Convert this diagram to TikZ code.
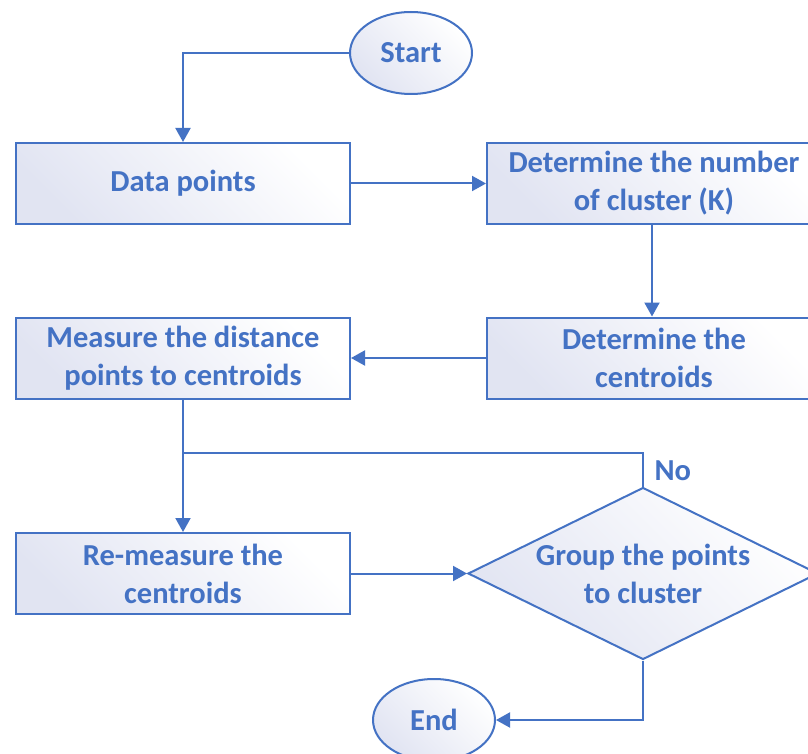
\documentclass[tikz,border=0pt]{standalone}
\usepackage{fontspec}
\setmainfont{Carlito}[BoldFont={Carlito Bold}]
\usetikzlibrary{shapes.geometric,arrows.meta}
\definecolor{ofblue}{HTML}{4472C4}
\definecolor{lav}{HTML}{E1E4F2}
\tikzset{
  shape fill/.style={draw=ofblue, line width=2pt, shading=axis, top color=lav, bottom color=white, shading angle=135},
  procbox/.style={shape fill, rectangle, minimum width=334pt, minimum height=81pt, inner sep=0pt, align=center},
  term/.style={shape fill, ellipse, minimum width=122pt, minimum height=82pt, inner sep=0pt},
  decision/.style={shape fill, diamond, minimum width=350pt, minimum height=172pt, inner sep=-40pt, align=center},
  lbl/.style={text=ofblue, font=\bfseries\fontsize{30.5}{38}\selectfont},
  conn/.style={draw=ofblue, line width=2pt},
  arr/.style={conn, -{Triangle[length=14pt,width=15pt]}}
}
\begin{document}
\begin{tikzpicture}[x=1pt,y=-1pt]
\clip (0,0) rectangle (808,754);
\fill[white] (0,0) rectangle (808,754);
\node[term, lbl] (start) at (411,53) {Start};
\node[procbox, lbl] (data) at (183,183.5) {Data points};
\node[procbox, lbl] (num) at (654,183.5) {Determine the number\\of cluster (K)};
\node[procbox, lbl] (cent) at (654,358) {Determine the\\centroids};
\node[procbox, lbl] (meas) at (183,358) {Measure the distance\\points to centroids};
\node[procbox, lbl] (remeas) at (183,573.5) {Re-measure the\\centroids};
\node[decision, lbl] (group) at (643,573.5) {Group the points\\to cluster};
\node[term, lbl] (end) at (434,720) {End};
\coordinate (loopR) at (643,453);
\coordinate (loopL) at (183,453);
\draw[arr] (start.west) -| (data.north);
\draw[arr] (data.east) -- (num.west);
\draw[arr] (num.south -| 652,0) -- (cent.north -| 652,0);
\draw[arr] (cent.west) -- (meas.east);
\draw[arr] (meas.south) -- (remeas.north);
\draw[conn] (group.north) -- (loopR) -- (loopL);
\draw[arr] (remeas.east) -- (group.west);
\draw[arr] (group.south) |- (end.east);
\node[lbl, anchor=west] (no) at (651,471) {No};
\end{tikzpicture}
\end{document}
